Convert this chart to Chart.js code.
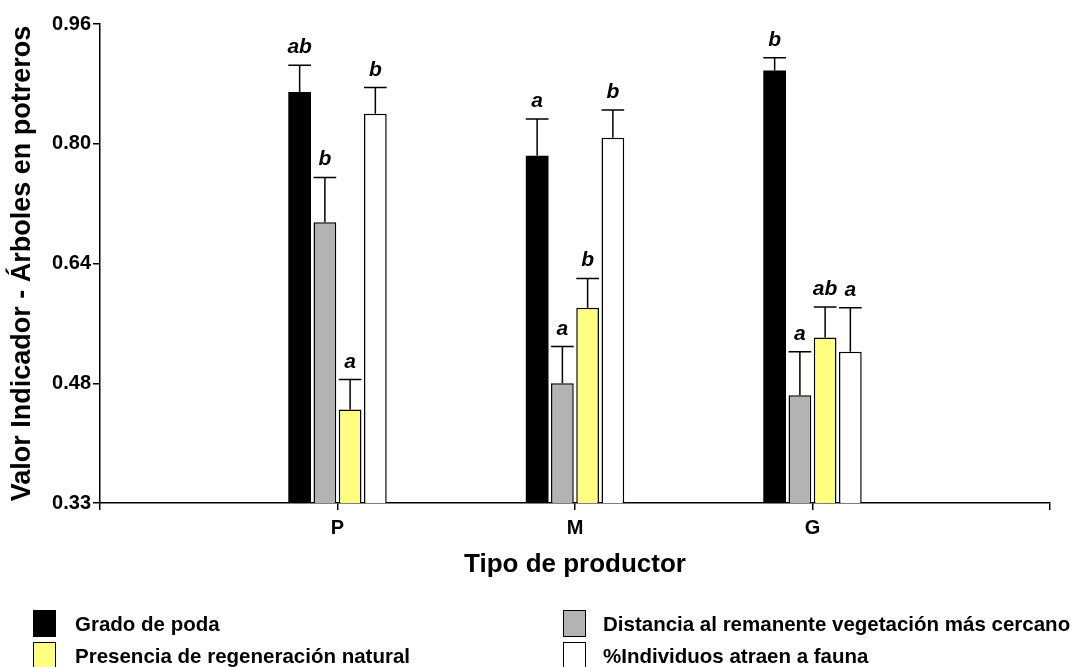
<!DOCTYPE html>
<html>
<head>
<meta charset="utf-8">
<script src="https://cdn.jsdelivr.net/npm/chart.js@4/dist/chart.umd.min.js"></script>
<style>
  html, body { margin: 0; padding: 0; background: #fff; }
  #wrap { position: relative; width: 1081px; height: 667px; overflow: hidden; font-family: "Liberation Sans", Arial, sans-serif; }
  #c { position: absolute; left: 0; top: 0; }
  .lg-box { position: absolute; width: 21px; height: 25px; border: 1.5px solid #000; box-sizing: content-box; }
  .lg-text { position: absolute; font-weight: bold; font-size: 20.5px; color: #000; white-space: nowrap; line-height: 27px; }
</style>
</head>
<body>
<div id="wrap">
  <canvas id="c" width="1081" height="667"></canvas>
  <div id="legend"></div>
</div>
<script>
// ---- Data ----
const categories = ['P', 'M', 'G'];
const seriesNames = [
  'Grado de poda',
  'Distancia al remanente vegetación más cercano',
  'Presencia de regeneración natural',
  '%Individuos atraen a fauna'
];
const gradoPoda      = [0.869, 0.784, 0.898];
const distancia      = [0.695, 0.480, 0.464];
const presencia      = [0.445, 0.581, 0.541];
const individuos     = [0.840, 0.808, 0.522];
const gradoPodaErr   = [0.036, 0.049, 0.017];
const distanciaErr   = [0.060, 0.049, 0.058];
const presenciaErr   = [0.040, 0.039, 0.041];
const individuosErr  = [0.035, 0.037, 0.059];
const gradoPodaLet   = ['ab', 'a', 'b'];
const distanciaLet   = ['b', 'a', 'a'];
const presenciaLet   = ['a', 'b', 'ab'];
const individuosLet  = ['b', 'b', 'a'];
const yTickLabels    = ['0.33', '0.48', '0.64', '0.80', '0.96'];
const yTitle = 'Valor Indicador - Árboles en potreros';
const xTitle = 'Tipo de productor';

// ---- Build ----
const pad = arr => [null, ...arr, null];
const labels = ['', ...categories, ''];
const colors = ['#000000', '#b3b3b3', '#ffff80', '#ffffff'];
const values = [gradoPoda, distancia, presencia, individuos];
const errs = [gradoPodaErr, distanciaErr, presenciaErr, individuosErr];
const lets = [gradoPodaLet, distanciaLet, presenciaLet, individuosLet];

const FONT = '"Liberation Sans", Arial, sans-serif';

const datasets = values.map((v, i) => ({
  label: seriesNames[i],
  data: pad(v),
  errors: pad(errs[i]),
  letters: pad(lets[i]),
  backgroundColor: colors[i],
  borderColor: '#000000',
  borderWidth: i === 0 ? 0 : 1.5,
  borderSkipped: 'start',
  barPercentage: 0.9,
  categoryPercentage: 0.425
}));

const errorBarPlugin = {
  id: 'errorBars',
  afterDatasetsDraw(chart) {
    const ctx = chart.ctx;
    const yScale = chart.scales.y;
    chart.data.datasets.forEach((ds, di) => {
      const meta = chart.getDatasetMeta(di);
      meta.data.forEach((bar, i) => {
        const v = ds.data[i];
        if (v == null) return;
        const topPx = yScale.getPixelForValue(v + ds.errors[i]);
        const half = bar.width / 2;
        ctx.save();
        ctx.strokeStyle = '#000';
        ctx.lineWidth = 1.5;
        ctx.beginPath();
        ctx.moveTo(bar.x, bar.y);
        ctx.lineTo(bar.x, topPx);
        ctx.moveTo(bar.x - half, topPx);
        ctx.lineTo(bar.x + half, topPx);
        ctx.stroke();
        ctx.fillStyle = '#000';
        ctx.font = 'italic bold 21px ' + FONT;
        ctx.textAlign = 'center';
        ctx.textBaseline = 'alphabetic';
        ctx.fillText(ds.letters[i], bar.x, topPx - 12);
        ctx.restore();
      });
    });
  }
};

new Chart(document.getElementById('c'), {
  type: 'bar',
  data: { labels, datasets },
  options: {
    responsive: false,
    devicePixelRatio: 1,
    animation: false,
    layout: { padding: { top: 24, right: 31, bottom: 84, left: 0 } },
    plugins: { legend: { display: false }, tooltip: { enabled: false } },
    scales: {
      x: {
        type: 'category',
        offset: false,
        grid: { offset: false, display: true, drawOnChartArea: false, drawTicks: true, tickLength: 7, color: '#000', lineWidth: 1.5 },
        border: { display: true, color: '#000', width: 1.5 },
        ticks: { color: '#000', font: { family: FONT, size: 20, weight: 'bold' }, padding: 6, maxRotation: 0, autoSkip: false },
        title: { display: true, text: xTitle, color: '#000', font: { family: FONT, size: 26, weight: 'bold' }, padding: { top: 0, bottom: 3 } },
        afterFit(scale) { scale.height = 80; }
      },
      y: {
        min: 0.32,
        max: 0.96,
        grid: { display: true, drawOnChartArea: false, drawTicks: true, tickLength: 7, color: '#000', lineWidth: 1.5 },
        border: { display: true, color: '#000', width: 1.5 },
        ticks: {
          stepSize: 0.16,
          color: '#000',
          padding: 2,
          font: { family: FONT, size: 20, weight: 'bold' },
          callback: (val, idx) => yTickLabels[idx]
        },
        title: { display: true, text: yTitle, color: '#000', font: { family: FONT, size: 27, weight: 'bold' }, padding: { top: 6, bottom: 0 } },
        afterFit(scale) { scale.width = 100; }
      }
    }
  },
  plugins: [errorBarPlugin]
});

// ---- HTML legend ----
const legend = document.getElementById('legend');
const legendPos = [
  { bx: 33, tx: 75, y: 610 },
  { bx: 563, tx: 603, y: 610 },
  { bx: 33, tx: 75, y: 642 },
  { bx: 563, tx: 603, y: 642 }
];
seriesNames.forEach((name, i) => {
  const p = legendPos[i];
  const box = document.createElement('div');
  box.className = 'lg-box';
  box.style.left = p.bx + 'px';
  box.style.top = p.y + 'px';
  box.style.background = colors[i];
  legend.appendChild(box);
  const t = document.createElement('div');
  t.className = 'lg-text';
  t.style.left = p.tx + 'px';
  t.style.top = p.y + 'px';
  t.textContent = name;
  legend.appendChild(t);
});
</script>
</body>
</html>
